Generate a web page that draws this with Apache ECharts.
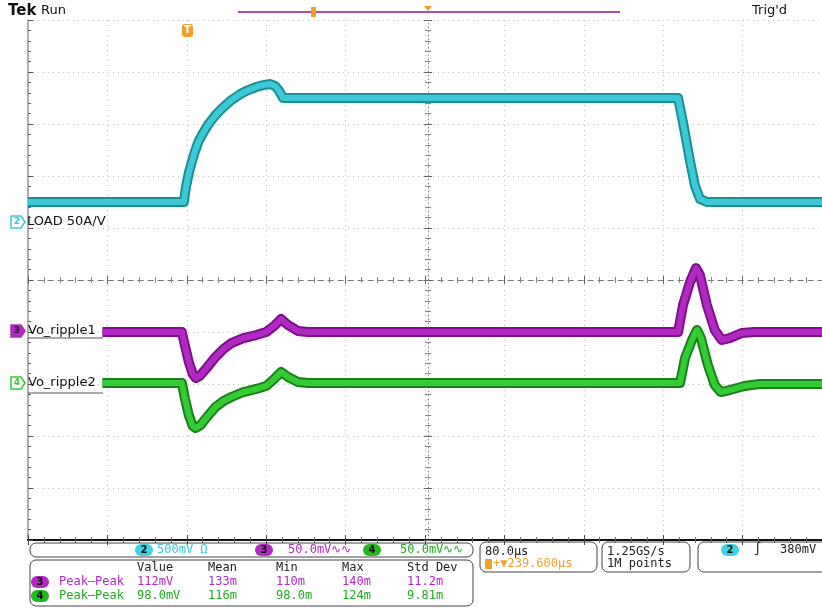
<!DOCTYPE html>
<html>
<head>
<meta charset="utf-8">
<script src="https://cdn.jsdelivr.net/npm/echarts@6/dist/echarts.min.js"></script>
<style>
html,body{margin:0;padding:0;background:#fff;}
#c{width:822px;height:608px;}
</style>
</head>
<body>
<div id="c"></div>
<script>
// ---- Data (time in µs from left edge of screen, 80 µs/div) ----
// CH2: load current (A), 500mV/div at 50A/V => 25 A/div
const loadT = [0, 157, 159, 162, 165, 168, 172, 177, 182, 189, 197, 205, 214, 222, 230, 237, 244, 249, 253, 257, 655, 660, 667, 672, 677, 684, 800];
const loadA = [10, 10, 16.7, 23.9, 29.2, 34.0, 39.3, 43.7, 47.5, 51.8, 55.7, 59.0, 61.9, 63.8, 65.3, 66.2, 66.7, 65.8, 63.4, 60, 60, 48.1, 29.8, 17.8, 11.5, 10, 10];
// CH3: Vo_ripple1 (mV), 50 mV/div
const rip1T = [75, 155, 158, 162, 166, 169, 173, 180, 189, 197, 205, 217, 230, 240, 248, 255, 262, 272, 282, 655, 660, 667, 673, 677, 684, 692, 699, 707, 719, 732, 800];
const rip1mV = [0, 0, -12.5, -28.8, -40.4, -44.2, -42.3, -34.6, -24, -16.3, -10.6, -5.8, -2.9, 0, 5.8, 12.5, 6.7, 1, 0, 0, 26, 48, 61.5, 54.8, 26, 1.9, -7.7, -5.8, -1, 0, 0];
// CH4: Vo_ripple2 (mV), 50 mV/div
const rip2T = [75, 155, 158, 162, 166, 169, 174, 182, 189, 197, 205, 217, 230, 240, 248, 255, 262, 272, 282, 657, 662, 669, 674, 678, 685, 692, 698, 707, 722, 737, 800];
const rip2mV = [-1.5, -1.5, -16, -32.3, -42.9, -44.8, -41.9, -32.3, -24.6, -18.8, -15, -10.2, -7.3, -4.4, 2.3, 9, 4.2, -0.6, -1.5, -1.5, 22.5, 39.8, 49.4, 41.7, 15.8, -3.5, -10.2, -8.3, -4.4, -2.5, -2.5];

// channel scale (units per division) and ground offset (divisions from bottom)
const ch2Scale = 25, ch2Off = 6.1;
const ch3Scale = 50, ch3Off = 4.0;
const ch4Scale = 50, ch4Off = 3.05;

const toDiv = (ts, vs, sc, off) => ts.map((t, i) => [t, off + vs[i] / sc]);

const CYAN = '#3cc8d4', CYAN_D = '#1a8f98';
const MAG = '#b02ac2', MAG_D = '#800c90';
const GRN = '#34cc34', GRN_D = '#1a801a';
const ORANGE = '#f0a028';

const chart = echarts.init(document.getElementById('c'), null, {renderer: 'canvas'});

function trace(data, dark, light) {
  return [
    {type: 'line', data: data, showSymbol: false, animation: false, z: 5,
     lineStyle: {color: dark, width: 10, join: 'round', cap: 'butt'}},
    {type: 'line', data: data, showSymbol: false, animation: false, z: 6,
     lineStyle: {color: light, width: 6, join: 'round', cap: 'butt'}}
  ];
}

const mono = 'DejaVu Sans Mono';
function txt(x, y, s, color, size, extra) {
  return Object.assign({type: 'text', x: x, y: y, z: 20, style: Object.assign({text: s, fill: color, font: (size || 12) + 'px "' + mono + '"', textVerticalAlign: 'middle'}, extra || {})});
}
function pill(cx, cy, color, label) {
  return [
    {type: 'rect', z: 20, shape: {x: cx - 9, y: cy - 6, width: 18, height: 12, r: 6}, style: {fill: color}},
    {type: 'text', z: 21, x: cx, y: cy, style: {text: label, fill: '#111', font: 'bold 10px "DejaVu Sans"', textAlign: 'center', textVerticalAlign: 'middle'}}
  ];
}
function marker(x, y, color, filled, label) {
  return [
    {type: 'polygon', z: 20, shape: {points: [[x, y - 6], [x + 10, y - 6], [x + 14, y], [x + 10, y + 6], [x, y + 6]]},
     style: {fill: filled ? color : '#fff', stroke: color, lineWidth: 1.5}},
    {type: 'text', z: 21, x: x + 6, y: y, style: {text: label, fill: filled ? '#222' : color, font: 'bold 9px "DejaVu Sans"', textAlign: 'center', textVerticalAlign: 'middle'}}
  ];
}
function box(x, y, w, h) {
  return {type: 'rect', z: 19, shape: {x: x, y: y, width: w, height: h, r: 6}, style: {fill: 'none', stroke: '#444', lineWidth: 1}};
}

const graphics = [].concat(
  [
    {type: 'text', x: 8, y: 11, z: 20, style: {text: 'Tek', fill: '#111', font: 'bold 15px "DejaVu Sans"', textVerticalAlign: 'middle'}},
    {type: 'text', x: 41, y: 11, z: 20, style: {text: 'Run', fill: '#111', font: '13px "DejaVu Sans"', textVerticalAlign: 'middle'}},
    {type: 'text', x: 752, y: 11, z: 20, style: {text: "Trig'd", fill: '#111', font: '13px "DejaVu Sans"', textVerticalAlign: 'middle'}},
    {type: 'line', z: 20, shape: {x1: 238, y1: 12, x2: 620, y2: 12}, style: {stroke: '#a650a8', lineWidth: 2}},
    {type: 'rect', z: 21, shape: {x: 311, y: 7, width: 5, height: 10}, style: {fill: ORANGE}},
    {type: 'polygon', z: 21, shape: {points: [[424, 6], [432, 6], [428, 11]]}, style: {fill: ORANGE}},
    {type: 'rect', z: 21, shape: {x: 182, y: 24, width: 11, height: 13, r: 3}, style: {fill: ORANGE}},
    {type: 'text', z: 22, x: 187.5, y: 30.5, style: {text: 'T', fill: '#fff', font: 'bold 10px "DejaVu Sans"', textAlign: 'center', textVerticalAlign: 'middle'}},
    {type: 'text', x: 27, y: 222, z: 20, style: {text: 'LOAD 50A/V', fill: '#111', font: '13px "DejaVu Sans"', textVerticalAlign: 'middle'}},
    {type: 'text', x: 28, y: 331, z: 20, style: {text: 'Vo_ripple1', fill: '#111', font: '13px "DejaVu Sans"', textVerticalAlign: 'middle'}},
    {type: 'text', x: 28, y: 383, z: 20, style: {text: 'Vo_ripple2', fill: '#111', font: '13px "DejaVu Sans"', textVerticalAlign: 'middle'}},
    {type: 'line', z: 20, shape: {x1: 28, y1: 338, x2: 103, y2: 338}, style: {stroke: '#555', lineWidth: 1}},
    {type: 'line', z: 20, shape: {x1: 28, y1: 393, x2: 103, y2: 393}, style: {stroke: '#555', lineWidth: 1}}
  ],
  marker(11, 222, CYAN, false, '2'),
  marker(11, 331, MAG, true, '3'),
  marker(11, 383, GRN, false, '4'),
  [
    box(30, 543, 443, 14),
    box(30, 560, 443, 46),
    box(480, 542, 117, 30),
    box(602, 542, 88, 30),
    box(698, 542, 134, 30)
  ],
  pill(144, 550, '#3fd2e2', '2'),
  [txt(157, 550, '500mV Ω', CYAN, 12)],
  pill(264, 550, MAG, '3'),
  [txt(288, 550, '50.0mV∿∿', MAG, 12)],
  pill(372, 550, '#22b822', '4'),
  [txt(400, 550, '50.0mV∿∿', '#22a822', 12)],
  [
    txt(137, 568, 'Value', '#222', 12),
    txt(208, 568, 'Mean', '#222', 12),
    txt(276, 568, 'Min', '#222', 12),
    txt(342, 568, 'Max', '#222', 12),
    txt(407, 568, 'Std Dev', '#222', 12)
  ],
  pill(40, 582, MAG, '3'),
  [
    txt(59, 582, 'Peak–Peak', MAG, 12),
    txt(137, 582, '112mV', MAG, 12),
    txt(208, 582, '133m', MAG, 12),
    txt(276, 582, '110m', MAG, 12),
    txt(342, 582, '140m', MAG, 12),
    txt(407, 582, '11.2m', MAG, 12)
  ],
  pill(40, 596, '#22b822', '4'),
  [
    txt(59, 596, 'Peak–Peak', '#22a822', 12),
    txt(137, 596, '98.0mV', '#22a822', 12),
    txt(208, 596, '116m', '#22a822', 12),
    txt(276, 596, '98.0m', '#22a822', 12),
    txt(342, 596, '124m', '#22a822', 12),
    txt(407, 596, '9.81m', '#22a822', 12)
  ],
  [
    txt(485, 552, '80.0µs', '#222', 12),
    {type: 'rect', z: 21, shape: {x: 485, y: 559, width: 7, height: 10, r: 1}, style: {fill: ORANGE}},
    txt(493, 564, '+▼239.600µs', ORANGE, 12),
    txt(607, 552, '1.25GS/s', '#222', 12),
    txt(607, 564, '1M points', '#222', 12)
  ],
  pill(730, 550, '#3fd2e2', '2'),
  [
    txt(754, 550, '∫', '#222', 13),
    txt(780, 550, '380mV', '#222', 12)
  ]
);

const hidden = {show: false};
const baseX = {type: 'value', min: 0, max: 800, interval: 80, axisLabel: hidden};
const baseY = {type: 'value', min: 0, max: 10, interval: 1, axisLabel: hidden};

const option = {
  animation: false,
  backgroundColor: '#fff',
  grid: {left: 28, top: 20, width: 800, height: 520, containLabel: false},
  xAxis: [
    Object.assign({}, baseX, {position: 'bottom',
      axisLine: {show: true, lineStyle: {color: '#333', width: 1.5}},
      axisTick: {show: true, inside: true, length: 5, lineStyle: {color: '#444'}},
      minorTick: {show: true, splitNumber: 5, length: 3, lineStyle: {color: '#666'}},
      splitLine: {show: true, lineStyle: {color: '#bcbcbc', type: [1, 4]}}}),
    Object.assign({}, baseX, {position: 'top',
      axisLine: {show: true, lineStyle: {color: '#111', width: 2}},
      axisTick: {show: true, inside: true, length: 5, lineStyle: {color: '#444'}},
      minorTick: {show: true, splitNumber: 5, length: 3, lineStyle: {color: '#666'}},
      splitLine: hidden}),
    Object.assign({}, baseX, {position: 'bottom', offset: -260,
      axisLine: {show: true, lineStyle: {color: '#777', width: 1, type: [5, 5]}},
      axisTick: {show: true, inside: true, length: 4, lineStyle: {color: '#666'}},
      minorTick: {show: true, splitNumber: 5, length: 3, lineStyle: {color: '#888'}},
      splitLine: hidden}),
    Object.assign({}, baseX, {position: 'bottom', offset: -260,
      axisLine: hidden,
      axisTick: {show: true, inside: false, length: 4, lineStyle: {color: '#666'}},
      minorTick: {show: true, splitNumber: 5, length: 3, lineStyle: {color: '#888'}},
      splitLine: hidden})
  ],
  yAxis: [
    Object.assign({}, baseY, {position: 'left',
      axisLine: {show: true, lineStyle: {color: '#999', width: 1.5}},
      axisTick: {show: true, inside: true, length: 5, lineStyle: {color: '#555'}},
      minorTick: {show: true, splitNumber: 5, length: 3, lineStyle: {color: '#666'}},
      splitLine: {show: true, lineStyle: {color: '#bcbcbc', type: [1, 4]}}}),
    Object.assign({}, baseY, {position: 'left', offset: -400,
      axisLine: {show: true, lineStyle: {color: '#888', width: 1, type: [1, 3]}},
      axisTick: {show: true, inside: true, length: 4, lineStyle: {color: '#666'}},
      minorTick: {show: true, splitNumber: 5, length: 3, lineStyle: {color: '#888'}},
      splitLine: hidden}),
    Object.assign({}, baseY, {position: 'left', offset: -400,
      axisLine: hidden,
      axisTick: {show: true, inside: false, length: 4, lineStyle: {color: '#666'}},
      minorTick: {show: true, splitNumber: 5, length: 3, lineStyle: {color: '#888'}},
      splitLine: hidden})
  ],
  series: [].concat(
    trace(toDiv(loadT, loadA, ch2Scale, ch2Off), CYAN_D, CYAN),
    trace(toDiv(rip1T, rip1mV, ch3Scale, ch3Off), MAG_D, MAG),
    trace(toDiv(rip2T, rip2mV, ch4Scale, ch4Off), GRN_D, GRN)
  ),
  graphic: graphics
};
chart.setOption(option);
</script>
</body>
</html>
